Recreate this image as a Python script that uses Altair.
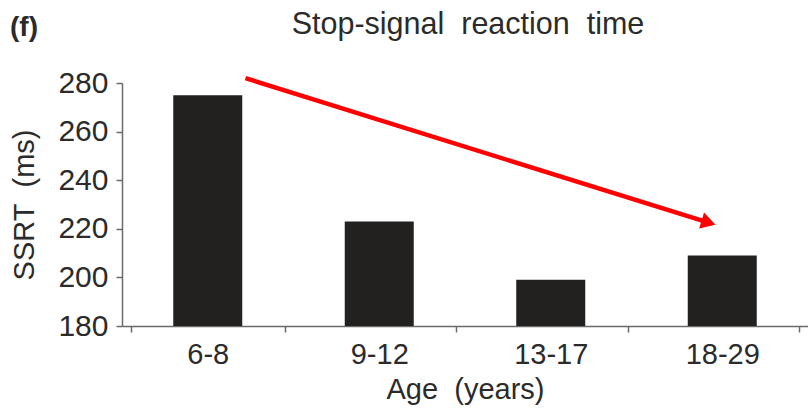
import altair as alt
import pandas as pd

ages = ["6-8", "9-12", "13-17", "18-29"]
ssrt = [275, 223, 199, 209]

# arrow annotation (x in band units 0..4, y in ms)
arrow_x = [0.72, 3.42]
arrow_y = [282, 222.5]

FONT = "Liberation Sans"
TXT = "#2b2b2b"
AX = "#6a6a6a"
NB = "\u00a0"

bars_df = pd.DataFrame({"age": ages, "ssrt": ssrt})
arrow_df = pd.DataFrame({"x": arrow_x, "y": arrow_y})
head_df = pd.DataFrame({"x": [arrow_x[1]], "y": [arrow_y[1]]})

yscale = alt.Scale(domain=[180, 280], zero=False, nice=False)

bars = alt.Chart(bars_df).mark_bar(color="#222120", width=69).encode(
    x=alt.X("age:N", sort=ages, title="Age" + NB + " (years)",
            axis=alt.Axis(labelAngle=0, tickBand="extent", labelFontSize=29,
                          titleFontSize=29, labelPadding=8, titlePadding=6,
                          tickSize=6, labelColor=TXT, titleColor=TXT,
                          domainColor=AX, tickColor=AX, domainWidth=1.5,
                          tickWidth=1.5, labelFont=FONT, titleFont=FONT,
                          titleFontWeight="normal")),
    y=alt.Y("ssrt:Q", scale=yscale, title="SSRT" + NB + " (ms)",
            axis=alt.Axis(values=[180, 200, 220, 240, 260, 280], grid=False,
                          labelFontSize=30, titleFontSize=29, labelPadding=8,
                          titlePadding=18, tickSize=6, labelColor=TXT,
                          titleColor=TXT, domainColor=AX, tickColor=AX,
                          domainWidth=1.5, tickWidth=1.5, labelFont=FONT,
                          titleFont=FONT, titleFontWeight="normal")),
    y2=alt.datum(180),
)

xq = alt.Scale(domain=[0, 4], nice=False, zero=False)

arrow = alt.Chart(arrow_df).mark_line(color="#ff0000", strokeWidth=4.5, clip=False).encode(
    x=alt.X("x:Q", scale=xq, axis=None),
    y=alt.Y("y:Q", scale=yscale),
)

head = alt.Chart(head_df).mark_point(shape="triangle-right", filled=True, color="#ff0000",
                                     size=280, angle=17, opacity=1, clip=False).encode(
    x=alt.X("x:Q", scale=xq, axis=None),
    y=alt.Y("y:Q", scale=yscale),
)

label = alt.Chart(pd.DataFrame({"t": ["(f)"]})).mark_text(
    font=FONT, fontSize=28, fontWeight="bold", color=TXT, align="left",
    baseline="alphabetic").encode(
    text="t:N", x=alt.value(-112), y=alt.value(-47))

title = alt.Chart(pd.DataFrame({"t": ["Stop-signal" + NB + " reaction" + NB + " time"]})).mark_text(
    font=FONT, fontSize=30.5, color=TXT, align="center",
    baseline="alphabetic").encode(
    text="t:N", x=alt.value(346), y=alt.value(-49))

chart = alt.layer(bars, arrow, head, label, title).resolve_scale(x="independent").properties(
    width=686, height=243,
    autosize=alt.AutoSizeParams(type="none"),
    padding={"left": 122, "top": 83, "right": 0, "bottom": 85},
).configure_view(stroke=None)

chart.save("out.html", embed_options={"renderer": "svg", "actions": False})
